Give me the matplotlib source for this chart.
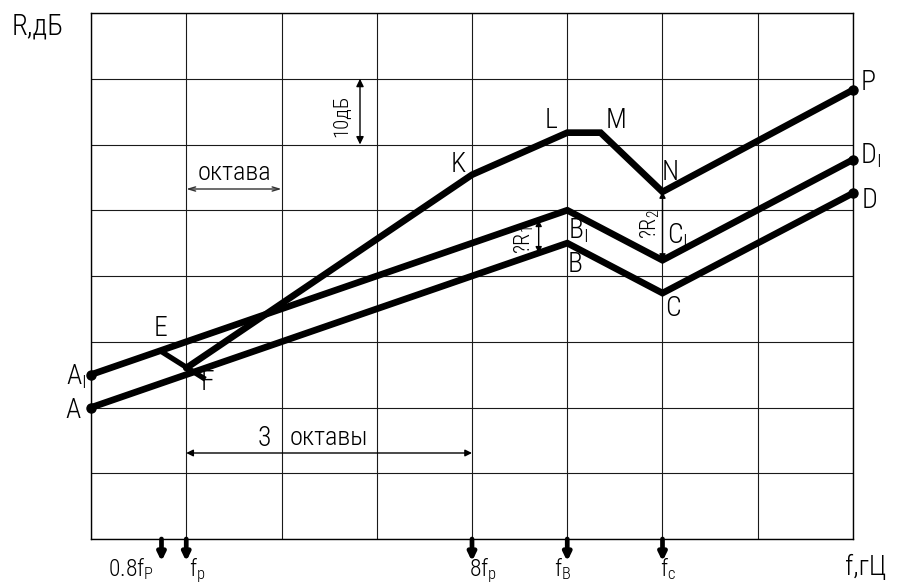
import matplotlib
matplotlib.use("Agg")
import matplotlib.pyplot as plt
from matplotlib import font_manager

# ---------------- data (octaves from the left edge, dB) ----------------
lower_x = [0, 5, 6, 8]            # A - B - C - D
lower_y = [20, 45, 37.4, 52.6]
mid_x = [0, 5, 6, 8]              # A1 - B1 - C1 - D1
mid_y = [25, 50, 42.4, 57.7]
upper_x = [1, 4, 5, 5.35, 6, 8]   # F - K - L - M - N - P
upper_y = [26.0, 55.4, 61.8, 61.8, 52.8, 68.3]
ef_x = [0.74, 1.2]                # E - F leader
ef_y = [28.5, 24.3]
freq_marks_x = [0.74, 1, 4, 5, 6]
freq_labels = [("0.8f", "P"), ("f", "p"), ("8f", "p"), ("f", "B"), ("f", "c")]
dR1_x, dR1_y = 4.70, (43.5, 48.5)
dR2_x, dR2_y = 6.0, (42.4, 52.8)

# ---------------- font ----------------
avail = {f.name for f in font_manager.fontManager.ttflist}
fam = "DejaVu Sans"
for cand in ["Roboto Condensed", "Liberation Sans Narrow", "Open Sans Condensed", "Liberation Sans"]:
    if cand in avail:
        fam = cand
        break
plt.rcParams["font.family"] = [fam, "DejaVu Sans"]
plt.rcParams["font.weight"] = "light"
plt.rcParams["mathtext.fontset"] = "custom"
plt.rcParams["mathtext.rm"] = fam + ":light"
plt.rcParams["mathtext.it"] = fam + ":light"
plt.rcParams["mathtext.default"] = "regular"

W, H = 914, 585
fig = plt.figure(figsize=(W / 100, H / 100), dpi=100)
L, R, T, B = 91, 853, 13, 539
ax = fig.add_axes([L / W, 1 - B / H, (R - L) / W, (B - T) / H])
ax.set_xlim(0, 8)
ax.set_ylim(0, 80)
ax.set_xticks(range(0, 9))
ax.set_yticks(range(0, 81, 10))
ax.tick_params(length=0, labelbottom=False, labelleft=False)
ax.grid(True, color="#1a1a1a", lw=0.8)
for s in ax.spines.values():
    s.set_linewidth(1.0)
    s.set_color("black")


def P(px, py):
    return ((px - L) / ((R - L) / 8), (B - py) / ((B - T) / 80))


LW = 4.8
kw = dict(color="black", lw=LW, solid_capstyle="round", solid_joinstyle="miter", zorder=5)
ax.plot(lower_x, lower_y, **kw)
ax.plot(mid_x, mid_y, **kw)
ax.plot(upper_x, upper_y, **kw)
ax.plot(ef_x, ef_y, color="black", lw=3.8, solid_capstyle="butt", zorder=5)
# end dots
for xs, ys in [(lower_x, lower_y), (mid_x, mid_y)]:
    ax.plot([xs[0], xs[-1]], [ys[0], ys[-1]], "o", ms=6.5, color="black", zorder=6, clip_on=False)
ax.plot([upper_x[-1]], [upper_y[-1]], "o", ms=6.5, color="black", zorder=6, clip_on=False)

fs = 20
def lab(px, py, main, sub=None, size=fs, **k):
    s = main if sub is None else main + "$_{" + sub + "}$"
    ax.text(*P(px, py), s, fontsize=size, ha="center", va="center", zorder=8, **k)

lab(73, 411, "A")
lab(76, 377, "A", "I")
lab(160, 329, "E")
lab(207, 382, "F")
lab(458, 165, "K")
lab(551, 121, "L")
lab(616, 120, "M")
lab(670, 172, "N")
lab(868, 82, "P")
lab(870, 156, "D", "I")
lab(870, 200, "D")
lab(578, 231, "B", "I")
lab(575, 265, "B")
lab(677, 236, "C", "I")
lab(673, 309, "C")

# delta-R arrows
da = dict(arrowstyle="<|-|>,head_width=0.18,head_length=0.35", color="black", lw=1.0,
          shrinkA=0, shrinkB=0)
ax.annotate("", xy=(dR1_x, dR1_y[0]), xytext=(dR1_x, dR1_y[1]), arrowprops=da, zorder=7)
ax.annotate("", xy=(dR2_x, dR2_y[0]), xytext=(dR2_x, dR2_y[1]), arrowprops=da, zorder=7)
lab(524, 240, "?R", "1", size=16, rotation=90)
lab(650, 224, "?R", "2", size=16, rotation=90)

# 10 dB dimension
x10 = P(360, 0)[0]
ax.annotate("", xy=(x10, 60), xytext=(x10, 70),
            arrowprops=dict(arrowstyle="<|-|>,head_width=0.22,head_length=0.45", color="black",
                            lw=1.0, shrinkA=0, shrinkB=0))
lab(341, 116, "10дБ", size=15, rotation=90)

# octave dimension
yo = P(0, 189)[1]
ax.annotate("", xy=(1, yo), xytext=(2, yo),
            arrowprops=dict(arrowstyle="<->,head_width=0.15,head_length=0.5", color="#333333",
                            lw=1.0, shrinkA=0, shrinkB=0))
lab(234, 173, "октава", size=19)

# 3 octaves dimension
y3 = P(0, 453)[1]
ax.annotate("", xy=(1, y3), xytext=(4, y3),
            arrowprops=dict(arrowstyle="<|-|>,head_width=0.2,head_length=0.4", color="black",
                            lw=1.0, shrinkA=0, shrinkB=0))
lab(264, 439, "3", size=20)
lab(329, 438, "октавы", size=19)

# bottom frequency arrows and labels
for xm in freq_marks_x:
    ax.annotate("", xy=(xm, -3.4), xytext=(xm, 0),
                arrowprops=dict(arrowstyle="-|>,head_width=0.22,head_length=0.45", color="black",
                                lw=3.4, shrinkA=0, shrinkB=0), annotation_clip=False)
lx = {0.74: 131, 1: 197, 4: 483, 5: 563, 6: 668}
for xm, (m, s) in zip(freq_marks_x, freq_labels):
    ax.text(*P(lx[xm], 576), m + "$_{" + s + "}$", fontsize=17, ha="center", va="baseline",
            clip_on=False)

fig.text(12 / W, 1 - 27 / H, "R,дБ", fontsize=21, ha="left", va="center")
fig.text(845 / W, 1 - 567 / H, "f,гЦ", fontsize=20, ha="left", va="center")

fig.savefig("out.png", dpi=100)
